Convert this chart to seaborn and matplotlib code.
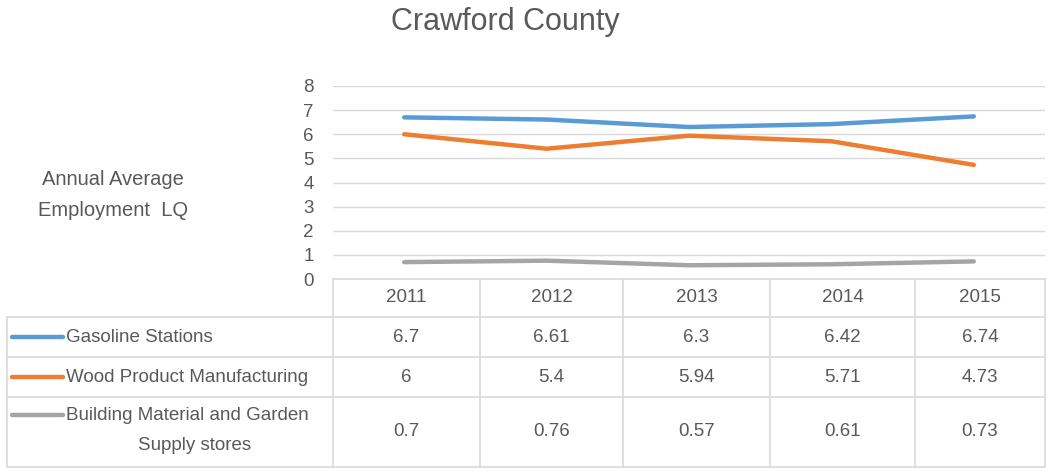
import pandas as pd
import seaborn as sns
import matplotlib.pyplot as plt

sns.set_style("white")
plt.rcParams["font.family"] = ["Liberation Sans", "DejaVu Sans"]

years = ["2011", "2012", "2013", "2014", "2015"]
gasoline = [6.7, 6.61, 6.3, 6.42, 6.74]
wood = [6, 5.4, 5.94, 5.71, 4.73]
building = [0.7, 0.76, 0.57, 0.61, 0.73]
series_names = ["Gasoline Stations", "Wood Product Manufacturing",
                "Building Material and Garden\nSupply stores"]
colors = ["#5B9BD5", "#ED7D31", "#A5A5A5"]

W, H = 1048, 468
txt = "#595959"
grid_c = "#D9D9D9"


def fx(px):
    return px / W


def fy(py):
    return 1 - py / H


rows = []
for name, vals in zip(series_names, [gasoline, wood, building]):
    for yr, v in zip(years, vals):
        rows.append({"Year": yr, "Series": name, "LQ": v})
df = pd.DataFrame(rows)

fig = plt.figure(figsize=(W / 100, H / 100), dpi=100)
ax = fig.add_axes([fx(333), fy(279), fx(1045 - 333), (279 - 86) / H])

sns.lineplot(data=df, x="Year", y="LQ", hue="Series", palette=colors,
             linewidth=3.2, ax=ax, legend=False, sort=False)

ax.set_ylim(0, 8)
ax.set_xlim(-0.5, 4.5)
ax.set_yticks(range(0, 9))
ax.set_xticks([])
ax.set_xlabel("")
ax.set_ylabel("")
ax.yaxis.grid(True, color=grid_c, linewidth=1)
for s in ax.spines.values():
    s.set_visible(False)
ax.tick_params(axis="y", labelsize=13.5, labelcolor=txt, length=0, pad=14)

fig.text(fx(505), fy(22), "Crawford County", ha="center", va="center",
         fontsize=22, color=txt)
fig.text(fx(113), fy(195), "Annual Average\nEmployment  LQ", ha="center",
         va="center", fontsize=14.5, color=txt, linespacing=1.75)

# data table
col_edges = [333, 480, 623, 770, 915, 1045]
row_edges = [279, 317, 357, 397, 467]
fs = 13.5
lkw = dict(color=grid_c, linewidth=1.2, transform=fig.transFigure)
fig.add_artist(plt.Line2D([fx(333), fx(1045)], [fy(279), fy(279)], **lkw))
for ry in row_edges[1:]:
    fig.add_artist(plt.Line2D([fx(7), fx(1045)], [fy(ry), fy(ry)], **lkw))
for cx in col_edges:
    fig.add_artist(plt.Line2D([fx(cx), fx(cx)], [fy(279), fy(467)], **lkw))
fig.add_artist(plt.Line2D([fx(7), fx(7)], [fy(317), fy(467)], **lkw))

for i, yr in enumerate(years):
    cx = (col_edges[i] + col_edges[i + 1]) / 2
    fig.text(fx(cx), fy(298), yr, ha="center", va="center", fontsize=fs, color=txt)

for r, (name, vals, c) in enumerate(zip(series_names, [gasoline, wood, building], colors)):
    cy = (row_edges[r + 1] + row_edges[r + 2]) / 2
    for i, v in enumerate(vals):
        cx = (col_edges[i] + col_edges[i + 1]) / 2
        fig.text(fx(cx), fy(cy), f"{v:g}", ha="center", va="center",
                 fontsize=fs, color=txt)
    if "\n" in name:
        first, second = name.split("\n")
        ky = 415
        fig.text(fx(66), fy(ky), first, ha="left", va="center", fontsize=fs, color=txt)
        fig.text(fx(195), fy(446), second, ha="center", va="center", fontsize=fs, color=txt)
    else:
        ky = cy
        fig.text(fx(66), fy(ky), name, ha="left", va="center", fontsize=fs, color=txt)
    fig.add_artist(plt.Line2D([fx(12), fx(63)], [fy(ky), fy(ky)], color=c,
                              linewidth=3.2, solid_capstyle="round",
                              transform=fig.transFigure))

fig.savefig("out.png", dpi=100, facecolor="white")
